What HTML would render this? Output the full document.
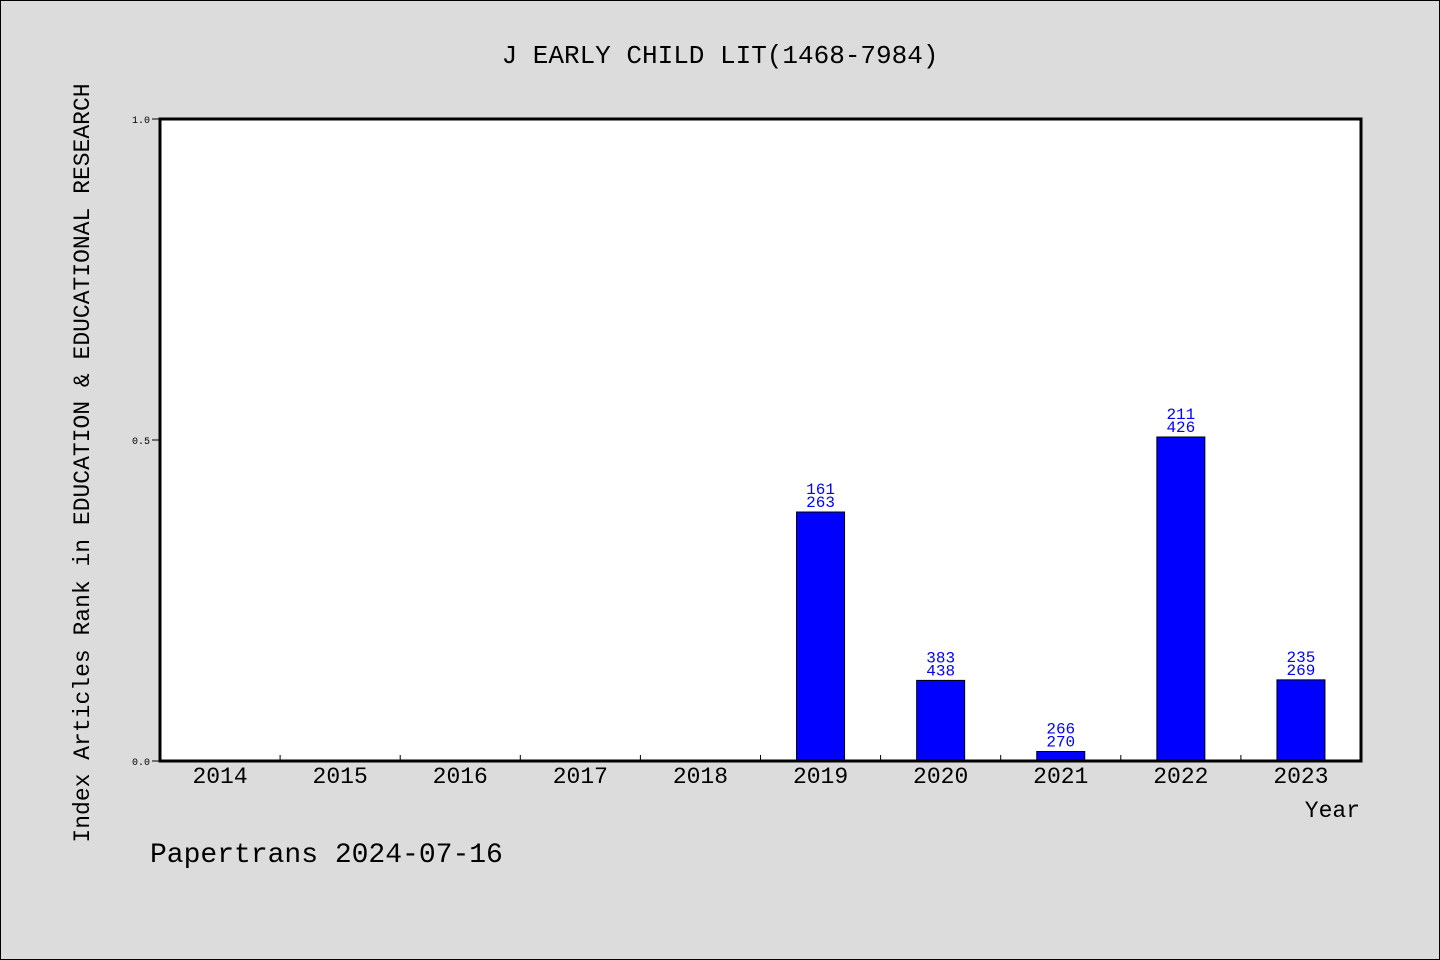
<!DOCTYPE html>
<html><head><meta charset="utf-8"><style>
body{margin:0;background:#dcdcdc;}
svg{display:block;font-family:"Liberation Mono","WenQuanYi Zen Hei",monospace;}
</style></head><body>
<svg width="1440" height="960">
<rect x="0.5" y="0.5" width="1439" height="959" fill="#dcdcdc" stroke="#000"/>
<text x="720" y="63" text-anchor="middle" font-size="26">J EARLY CHILD LIT(1468-7984)</text>
<rect x="160" y="119" width="1201" height="642" fill="#fff"/>
<g id="marks"></g>
<rect x="160" y="119" width="1201" height="642" fill="none" stroke="#000" stroke-width="3"/>
<text transform="translate(89,463) rotate(-90)" text-anchor="middle" font-size="23">Index Articles Rank in EDUCATION &amp; EDUCATIONAL RESEARCH</text>
<text x="1360" y="817" text-anchor="end" font-size="23">Year</text>
<text x="150" y="862" font-size="28">Papertrans 2024-07-16</text>
</svg>
<script>
const years=["2014","2015","2016","2017","2018","2019","2020","2021","2022","2023"];
const ranks=[null,null,null,null,null,161,383,266,211,235];
const totals=[null,null,null,null,null,263,438,270,426,269];
const yTicks=[0,0.5,1.0];
const yTickLabels=["0.0","0.5","1.0"];
const NS="http://www.w3.org/2000/svg";
const g=document.getElementById("marks");
const X0=160,W=1201,Y0=761,H=642,step=W/years.length;
const xs=i=>X0+step*(i+0.5);
const ys=v=>Y0-v*H;
function mk(t,a){const e=document.createElementNS(NS,t);for(const k in a)e.setAttribute(k,a[k]);g.appendChild(e);return e;}
yTicks.forEach((v,i)=>{
  const l=mk("line",{x1:152,x2:160,y1:ys(v),y2:ys(v),stroke:"#000"});
  
  
  const t=mk("text",{x:150,y:ys(v)+4,"text-anchor":"end","font-size":10});
  t.textContent=yTickLabels[i];
  
  
});
years.forEach((y,i)=>{
  if(i>0){const l=mk("line",{x1:X0+step*i,x2:X0+step*i,y1:Y0-6,y2:Y0,stroke:"#000"});
  
  }
  const t=mk("text",{x:xs(i),y:783,"text-anchor":"middle","font-size":23});
  t.textContent=y;
  
  
  if(ranks[i]!=null){
    const v=1-ranks[i]/totals[i];
    const b=mk("rect",{x:xs(i)-24,y:ys(v),width:48,height:Y0-ys(v),fill:"#0000ff",stroke:"#000"});
    
    
    const t1=mk("text",{x:xs(i),y:ys(v)-18,"text-anchor":"middle","font-size":16,fill:"#0000ff"});
    t1.textContent=ranks[i];
    
    
    const t2=mk("text",{x:xs(i),y:ys(v)-5,"text-anchor":"middle","font-size":16,fill:"#0000ff"});
    t2.textContent=totals[i];
    
    
  }
});
</script>
</body></html>
